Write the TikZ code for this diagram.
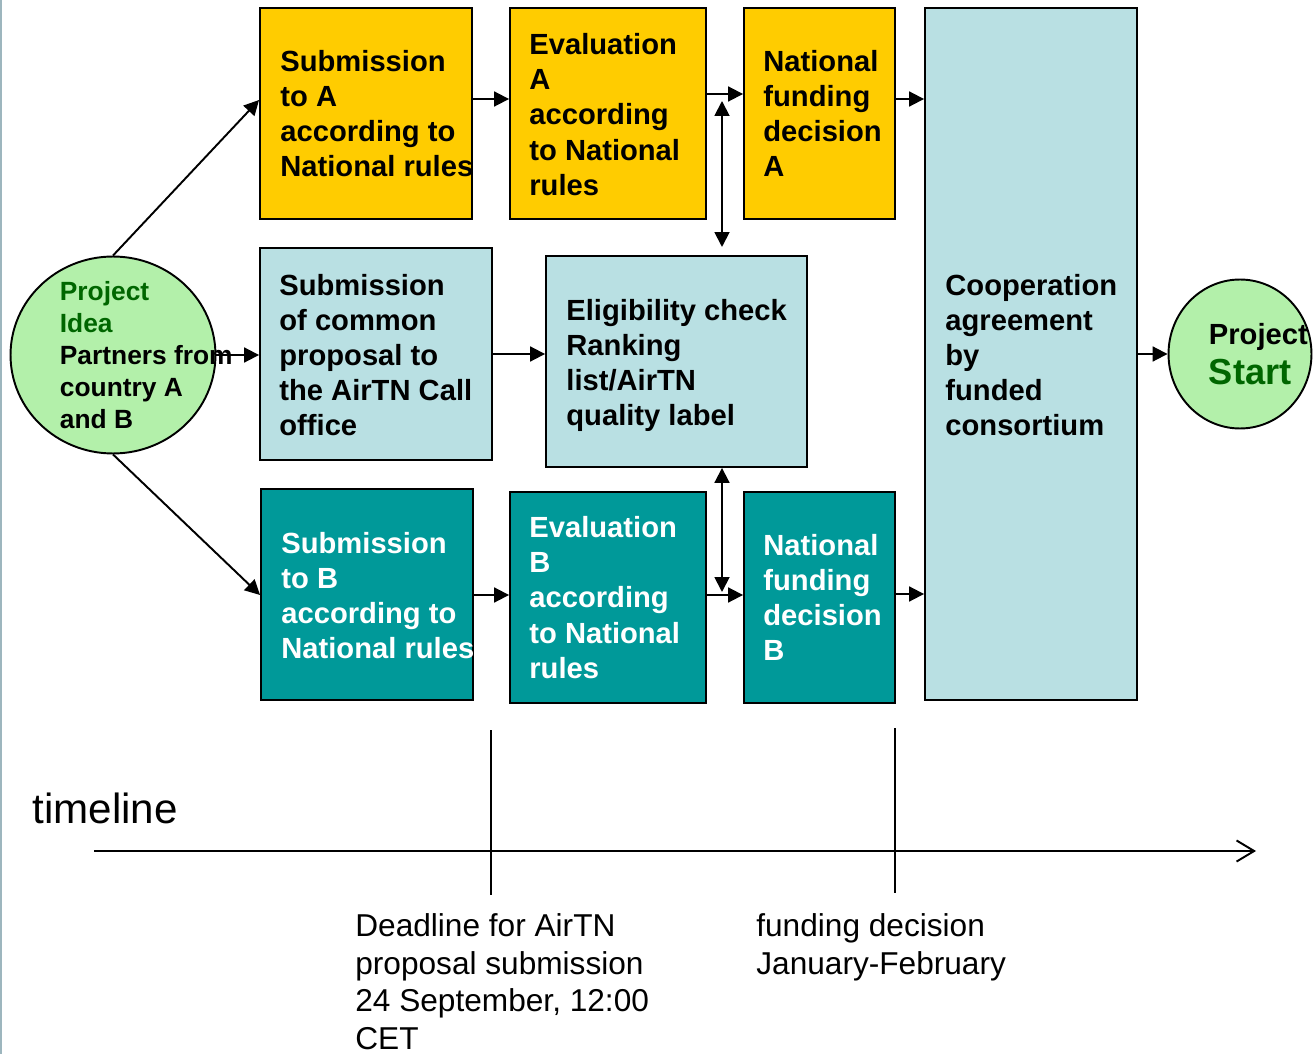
\documentclass[tikz,border=0pt]{standalone}
\usepackage{fontspec}
\setmainfont{Liberation Sans}
\usetikzlibrary{arrows.meta,shapes.geometric}
\definecolor{ayellow}{HTML}{FFCC00}
\definecolor{ablue}{HTML}{B9E0E3}
\definecolor{ateal}{HTML}{009999}
\definecolor{agreen}{HTML}{B3F0AA}
\definecolor{dgreen}{HTML}{006600}
\definecolor{edgecol}{HTML}{9DB6BE}
\begin{document}
\begin{tikzpicture}[x=0.02cm,y=-0.02cm,
  box/.style={draw=black,line width=1.1pt,inner sep=0pt,rectangle},
  ybox/.style={box,fill=ayellow},
  lbbox/.style={box,fill=ablue},
  tbox/.style={box,fill=ateal},
  circ/.style={draw=black,line width=1.1pt,fill=agreen,ellipse,inner sep=0pt},
  btxt/.style={anchor=west,align=left,inner sep=0pt,font=\bfseries\fontsize{16.6}{20}\selectfont},
  wtxt/.style={btxt,text=white},
  ntxt/.style={anchor=north west,align=left,inner sep=0pt,font=\fontsize{18}{21.5}\selectfont},
  arr/.style={line width=1.1pt,-{Triangle[length=8.5pt,width=8.5pt]}},
  darr/.style={line width=1.1pt,{Triangle[length=8.5pt,width=8.5pt]}-{Triangle[length=8.5pt,width=8.5pt]}},
  plain/.style={line width=1.1pt}
]
\useasboundingbox (0,0) rectangle (1313,1054);
\fill[white] (0,0) rectangle (1313,1054);
\coordinate (e0) at (1,0);
\coordinate (e1) at (1,1054);
\draw[edgecol,line width=1pt] (e0) -- (e1);

% boxes
\node[ybox,minimum width=4.24cm,minimum height=4.22cm] (subA) at (366,113.5) {};
\node[ybox,minimum width=3.92cm,minimum height=4.22cm] (evalA) at (608,113.5) {};
\node[ybox,minimum width=3.02cm,minimum height=4.22cm] (natA) at (819.5,113.5) {};
\node[lbbox,minimum width=4.24cm,minimum height=13.84cm] (coop) at (1031,354) {};
\node[lbbox,minimum width=4.64cm,minimum height=4.24cm] (subC) at (376,354) {};
\node[lbbox,minimum width=5.22cm,minimum height=4.22cm] (elig) at (676.5,361.5) {};
\node[tbox,minimum width=4.24cm,minimum height=4.22cm] (subB) at (367,594.5) {};
\node[tbox,minimum width=3.92cm,minimum height=4.22cm] (evalB) at (608,597.5) {};
\node[tbox,minimum width=3.02cm,minimum height=4.22cm] (natB) at (819.5,597.5) {};

\node[circ,minimum width=4.1cm,minimum height=3.94cm] (idea) at (113,355) {};
\node[circ,minimum width=2.86cm,minimum height=2.98cm] (start) at (1240,354) {};

% box texts
\node[btxt] (tsubA) at ([xshift=0.42cm]subA.west) {Submission\\to A\\according to\\National rules};
\node[btxt] (tevalA) at ([xshift=0.4cm,yshift=-0.02cm]evalA.west) {Evaluation\\A\\according\\to National\\rules};
\node[btxt] (tnatA) at ([xshift=0.4cm]natA.west) {National\\funding\\decision\\A};
\node[btxt] (tsubC) at ([xshift=0.4cm,yshift=-0.02cm]subC.west) {Submission\\of common\\proposal to\\the AirTN Call\\office};
\node[btxt] (telig) at ([xshift=0.42cm,yshift=-0.08cm]elig.west) {Eligibility check\\Ranking\\list/AirTN\\quality label};
\node[btxt] (tcoop) at ([xshift=0.42cm,yshift=-0.02cm]coop.west) {Cooperation\\agreement\\by\\funded\\consortium};
\node[wtxt] (tsubB) at ([xshift=0.42cm,yshift=-0.02cm]subB.west) {Submission\\to B\\according to\\National rules};
\node[wtxt] (tevalB) at ([xshift=0.4cm]evalB.west) {Evaluation\\B\\according\\to National\\rules};
\node[wtxt] (tnatB) at ([xshift=0.4cm]natB.west) {National\\funding\\decision\\B};

\node[anchor=west,align=left,inner sep=0pt,font=\bfseries\fontsize{15}{18.1}\selectfont] (tidea) at ([xshift=1cm]idea.west)
  {{\color{dgreen}Project}\\{\color{dgreen}Idea}\\Partners from\\country A\\and B};
\node[anchor=west,align=left,inner sep=0pt,font=\bfseries\fontsize{16.6}{22.7}\selectfont] (tstart) at ([xshift=0.82cm]start.west)
  {Project\\{\fontsize{20.6}{22.7}\selectfont\color{dgreen}Start}};

% connectors
\draw[arr] (idea.north) -- (subA.west |- 0,100);
\draw[arr] (idea.south) -- (subB.west |- 0,595);
\draw[arr] (idea.east) -- (subC.west |- idea.east);
\draw[arr] (subC.east |- 0,354) -- (elig.west |- 0,354);
\draw[arr] (subA.east |- 0,99) -- (evalA.west |- 0,99);
\draw[arr] (evalA.east |- 0,94) -- (natA.west |- 0,94);
\draw[arr] (natA.east |- 0,99) -- (coop.west |- 0,99);
\draw[arr] (subB.east |- 0,595) -- (evalB.west |- 0,595);
\draw[arr] (evalB.east |- 0,595) -- (natB.west |- 0,595);
\draw[arr] (natB.east |- 0,594) -- (coop.west |- 0,594);
\draw[arr] (coop.east |- 0,354) -- (start.west);
\coordinate (va0) at (722,101);
\coordinate (va1) at (722,247);
\draw[darr] (va0) -- (va1);
\coordinate (vb1) at (722,592);
\draw[darr] (elig.south -| vb1) -- (vb1);

% timeline
\coordinate (tl0) at (94,851);
\coordinate (tl1) at (1256,851);
\draw[line width=1.1pt,-{Straight Barb[length=10pt,width=12pt,line width=1.1pt]}] (tl0) -- (tl1);
\coordinate (d0) at (491,730);
\coordinate (d1) at (491,895);
\draw[plain] (d0) -- (d1);
\coordinate (f0) at (895,728);
\coordinate (f1) at (895,893);
\draw[plain] (f0) -- (f1);

\node[anchor=base west,inner sep=0pt,font=\fontsize{24}{28}\selectfont] (ttl) at (32,823) {timeline};
\node[ntxt] (tdead) at (355,913) {Deadline for AirTN\\proposal submission\\24 September, 12:00\\CET};
\node[ntxt] (tfund) at (756,913) {funding decision\\January-February};
\end{tikzpicture}
\end{document}
